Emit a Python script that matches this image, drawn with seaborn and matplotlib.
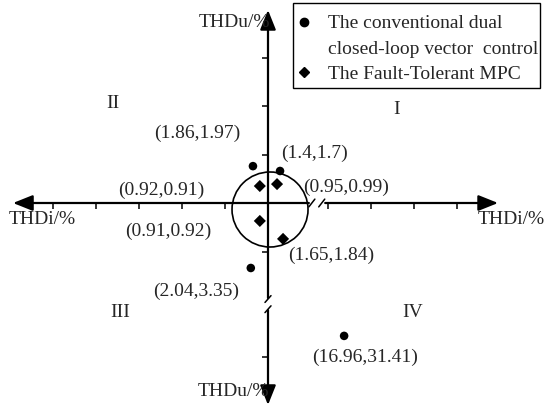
import matplotlib
matplotlib.use("Agg")
import matplotlib.pyplot as plt
from matplotlib.lines import Line2D
from matplotlib.patches import Ellipse, Rectangle
import seaborn as sns
import pandas as pd

sns.set_theme(style="white")
plt.rcParams['font.family'] = ['Liberation Serif', 'DejaVu Serif']

# ---- data ----
methods = ["conv", "conv", "conv", "conv", "mpc", "mpc", "mpc", "mpc"]
thdi = [1.86, 1.4, 2.04, 16.96, 0.92, 0.95, 0.91, 1.65]
thdu = [1.97, 1.7, 3.35, 31.41, 0.91, 0.99, 0.92, 1.84]
# plotted positions (schematic axis units)
pos_x = [-0.35, 0.28, -0.40, 1.77, -0.19, 0.21, -0.19, 0.35]
pos_y = [0.76, 0.66, -1.34, -2.74, 0.35, 0.39, -0.37, -0.74]
# label offsets in pixels
lab_dx = [-56, 34, -55, 21, -99, 69, -92, 48]
lab_dy = [33, 18, -23, -21, -4, -3, -10, -16]
legend_labels = ["The conventional dual", "closed-loop vector  control", "The Fault-Tolerant MPC"]
quadrants = ["I", "II", "III", "IV"]
quad_x = [3.0, -3.6, -3.44, 3.37]
quad_y = [1.92, 2.06, -2.25, -2.25]
xticks = [-5, -4, -3, -2, -1, 1.4, 2.4, 3.4, 4.4]
yticks = [1, 2, 3, -1, -3.18]

df = pd.DataFrame({"method": methods, "x": pos_x, "y": pos_y, "thdi": thdi, "thdu": thdu})

fig = plt.figure(figsize=(5.5, 4.13), dpi=100)
ax = fig.add_axes([0, 0, 1, 1])
ax.set_xlim(-268 / 43, 282 / 43)
ax.set_ylim(-210 / 48.5, 203 / 48.5)
ax.set_facecolor("white")

# spines at origin (invisible) to carry ticks
for s in ["top", "right"]:
    ax.spines[s].set_visible(False)
ax.spines["left"].set_position(("data", 0))
ax.spines["bottom"].set_position(("data", 0))
ax.spines["left"].set_linewidth(0)
ax.spines["bottom"].set_linewidth(0)
ax.set_xticks(xticks)
ax.set_yticks(yticks)
ax.set_xticklabels([])
ax.set_yticklabels([])
ax.tick_params(axis="x", direction="out", length=4, width=1.1, color="black", bottom=True)
ax.tick_params(axis="y", direction="out", length=4, width=1.1, color="black", left=True)
ax.grid(False)

arrow_kw = dict(arrowstyle="-|>,head_length=0.75,head_width=0.3", lw=1.6, color="black",
                mutation_scale=16, shrinkA=0, shrinkB=0)
# horizontal axis (with break)
xb0, xb1 = 0.95, 1.33
ax.annotate("", xy=(-5.93, 0), xytext=(xb0, 0), arrowprops=arrow_kw)
ax.annotate("", xy=(5.35, 0), xytext=(xb1, 0), arrowprops=arrow_kw)
# vertical axis (with break)
yb0, yb1 = -1.96, -2.21
ax.annotate("", xy=(0, 3.98), xytext=(0, yb0), arrowprops=arrow_kw)
ax.annotate("", xy=(0, -4.165), xytext=(0, yb1), arrowprops=arrow_kw)
# break marks
for cx in [1.02, 1.25]:
    ax.plot([cx - 0.07, cx + 0.07], [-0.08, 0.08], color="black", lw=1.1)
for cy in [yb0 - 0.02, yb1 + 0.02]:
    ax.plot([-0.07, 0.07], [cy - 0.07, cy + 0.07], color="black", lw=1.1)

# circle
ax.add_patch(Ellipse((0.047, -0.134), 76 / 43, 75 / 48.5, fill=False, lw=1.2, color="black"))

# points
sns.scatterplot(data=df, x="x", y="y", style="method", markers={"conv": "o", "mpc": "D"},
                color="black", s=38, edgecolor="black", linewidth=0, legend=False, ax=ax, zorder=5)
ax.set_xlabel("")
ax.set_ylabel("")

for i in range(len(df)):
    ax.annotate(f"({thdi[i]:g},{thdu[i]:g})", xy=(pos_x[i], pos_y[i]),
                xytext=(lab_dx[i], lab_dy[i]), textcoords="offset pixels",
                ha="center", va="center", fontsize=14)

for q, qx, qy in zip(quadrants, quad_x, quad_y):
    ax.text(qx, qy, q, ha="center", va="center", fontsize=14)

# axis titles
ax.text(-0.78, 3.72, "THDu/%", ha="center", va="center", fontsize=14)
ax.text(-0.8, -3.88, "THDu/%", ha="center", va="center", fontsize=14)
ax.text(-5.25, -0.33, "THDi/%", ha="center", va="center", fontsize=14)
ax.text(5.65, -0.33, "THDi/%", ha="center", va="center", fontsize=14)

handles = [Line2D([0], [0], marker="o", color="black", linestyle="none", markersize=6),
           Line2D([0], [0], marker=None, linestyle="none"),
           Line2D([0], [0], marker="D", color="black", linestyle="none", markersize=5.5)]
leg = ax.legend(handles, legend_labels, loc="upper left", bbox_to_anchor=(293 / 550, 1 - 9 / 413),
                bbox_transform=fig.transFigure, fontsize=14, frameon=False,
                borderpad=0.3, handlelength=0.5,
                handletextpad=1.0, labelspacing=0.4, borderaxespad=0)
fig.patches.append(Rectangle((293 / 550, 1 - 88 / 413), 247 / 550, 85 / 413,
                             transform=fig.transFigure, fill=False, lw=1.0,
                             edgecolor="black", figure=fig))

fig.savefig("out.png", dpi=100, facecolor="white")
